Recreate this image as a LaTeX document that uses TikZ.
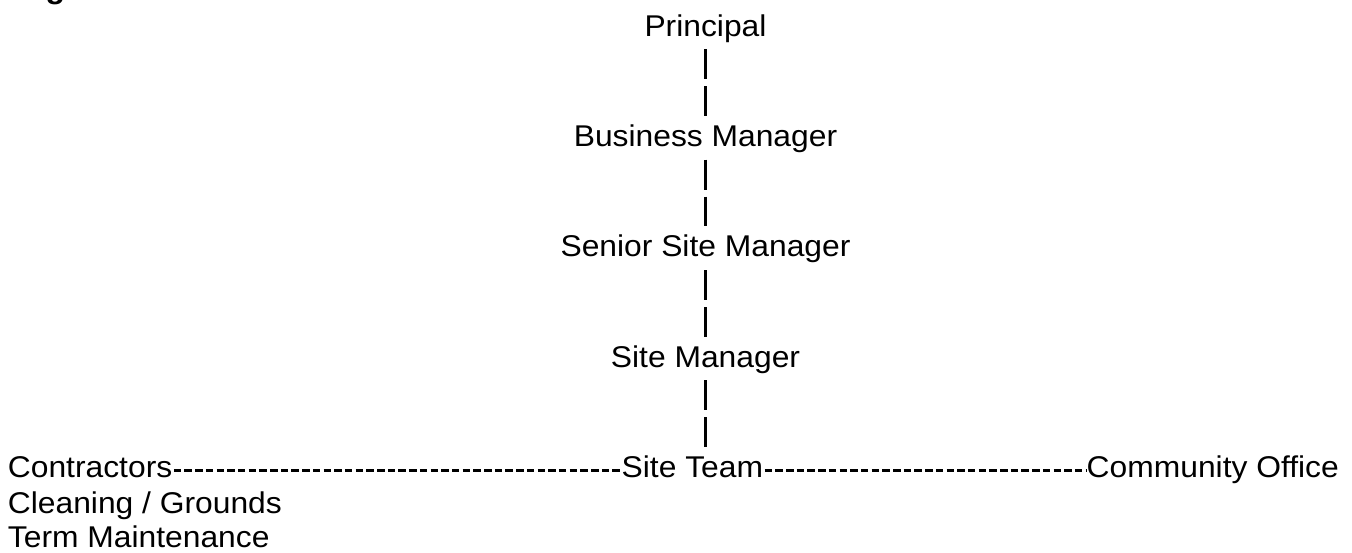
\documentclass[tikz,border=0pt]{standalone}
\usepackage{fontspec}
\setmainfont{Liberation Sans}[FakeStretch=1.06]
\usetikzlibrary{positioning}

\begin{document}
\begin{tikzpicture}[x=1pt, y=-1pt, node distance=110.4pt,
        post/.style={inner sep=0pt, text height=22pt, text depth=7pt, font=\fontsize{30}{36}\selectfont},
        bar/.style={line width=2.2pt, dash pattern=on 30pt off 7pt, shorten <=6pt, shorten >=8.4pt},
        hyph/.style={line width=3pt, dash pattern=on 7.5pt off 3.2pt, dash phase=9.4pt}]
        \useasboundingbox (0,0) rectangle (1352,552);
        \clip (0,0) rectangle (1352,552);
        % heading, cut off at the top
        \node (head) [anchor=base west, inner sep=0pt, font=\fontsize{30}{36}\selectfont\bfseries] at (45.5,-2) {g};
        % line of management
        \node (prin)  [post] at (705.5,28.5)     {Principal};
        \node (bm)    [post, below of=prin]      {Business Manager};
        \node (ssm)   [post, below of=bm]        {Senior Site Manager};
        \node (sm)    [post, below of=ssm]       {Site Manager};
        % bottom row
        \node (team)  [post, anchor=base west] at (621.5,477.6)  {Site Team};
        \node (contr) [post, anchor=base west] at (7.7,477.6)    {Contractors};
        \node (comm)  [post, anchor=base west] at (1086.5,477.6) {Community Office};
        \node (clean) [post, anchor=base west] at (7.7,513)      {Cleaning / Grounds};
        \node (term)  [post, text depth=0pt, anchor=base west] at (7.7,547.5)  {Term Maintenance};
        \draw[bar]  (prin) -- (bm);
        \draw[bar]  (bm)   -- (ssm);
        \draw[bar]  (ssm)  -- (sm);
        \draw[bar]  (sm.south) -- (sm.south |- team.north);
        \draw[hyph] ([yshift=7.6pt]contr.base east) -- ([yshift=7.6pt]team.base west);
        \draw[hyph] ([yshift=7.6pt]team.base east)  -- ([yshift=7.6pt]comm.base west);
    \end{tikzpicture}
\end{document}
